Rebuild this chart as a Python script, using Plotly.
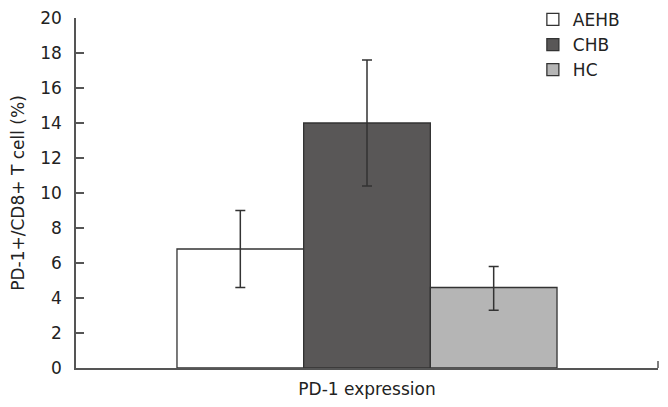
import plotly.graph_objects as go

category = ["PD-1 expression"]
groups = ["AEHB", "CHB", "HC"]
means = [6.8, 14.0, 4.6]
err_plus = [2.2, 3.6, 1.2]
err_minus = [2.2, 3.6, 1.3]
colors = ["#ffffff", "#595757", "#b5b5b5"]
y_ticks = [0, 2, 4, 6, 8, 10, 12, 14, 16, 18, 20]

fig = go.Figure()
for g, m, ep, em, c in zip(groups, means, err_plus, err_minus, colors):
    fig.add_trace(go.Bar(
        name=g, x=category, y=[m],
        marker=dict(color=c, line=dict(color="#333333", width=1.3)),
        error_y=dict(type="data", array=[ep], arrayminus=[em], symmetric=False,
                     color="#333333", thickness=1.5, width=5),
    ))

axis_col = "#555555"
fig.update_layout(
    width=668, height=407,
    margin=dict(l=68, r=18, t=10, b=47, autoexpand=False),
    barmode="group", bargap=0.347, bargroupgap=0,
    plot_bgcolor="white", paper_bgcolor="white",
    font=dict(family="DejaVu Sans", size=17, color="#222222"),
    legend=dict(x=0.785, y=1.046, xanchor="left", yanchor="top",
                font=dict(size=17), itemwidth=30,
                bgcolor="rgba(0,0,0,0)"),
    yaxis=dict(range=[0, 20], tickvals=y_ticks, ticks="inside", ticklen=8,
               tickcolor=axis_col, tickwidth=1.5, showline=True, linecolor=axis_col,
               linewidth=1.5, showgrid=False, zeroline=False, automargin=False,
               ticklabelstandoff=9, ticklabeloverflow="allow",
               title=dict(text="PD-1+/CD8+ T cell (%)", standoff=12, font=dict(size=17)),
               tickfont=dict(size=17)),
    xaxis=dict(showline=True, linecolor=axis_col, linewidth=1.5, showgrid=False,
               ticks="", automargin=False, ticklabelstandoff=5, tickfont=dict(size=17)),
    shapes=[dict(type="line", xref="paper", yref="paper", x0=1, x1=1, y0=0, y1=0.02,
                 line=dict(color=axis_col, width=1.5))],
)

fig.write_html("out.html")
